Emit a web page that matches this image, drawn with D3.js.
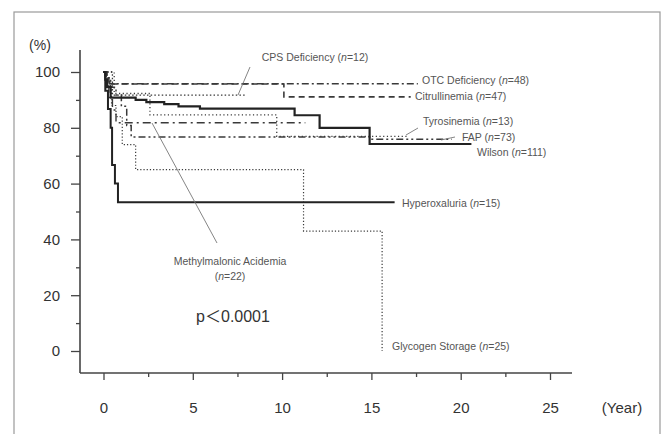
<!DOCTYPE html>
<html>
<head>
<meta charset="utf-8">
<script src="https://cdn.jsdelivr.net/npm/d3@7"></script>
<style>
  body { margin: 0; background: #fff; }
  svg text { font-family: "Liberation Sans", Arial, "Noto Sans CJK JP", sans-serif; }
</style>
</head>
<body>
<svg id="canvas" width="670" height="434"></svg>
<script>
// Kaplan-Meier steps: time in years, survival in %
let otcTime = [0, 0.15, 0.35, 17.6]
let otcPct = [100, 97.9, 95.8, 95.8]

let citTime = [0, 0.1, 0.3, 10.1, 17.2]
let citPct = [100, 97.9, 95.7, 91.1, 91.1]

let cpsTime = [0, 0.5, 8.0]
let cpsPct = [100, 91.7, 91.7]

let wilsonTime = [0, 0.1, 0.2, 0.4, 1.8, 2.4, 3.4, 4.2, 5.4, 10.7, 12.1, 14.9, 20.6]
let wilsonPct = [100, 97.3, 94.6, 90.8, 90.0, 89.2, 88.5, 87.7, 86.9, 84.5, 80.0, 74.2, 74.2]

let tyroTime = [0, 0.6, 2.6, 9.7, 17.0]
let tyroPct = [100, 92.3, 84.6, 76.9, 76.9]

let fapTime = [0, 0.2, 0.4, 0.7, 1.0, 1.3, 1.55, 14.9, 19.5]
let fapPct = [100, 97.3, 94.5, 91.8, 87.7, 80.8, 76.7, 75.9, 75.9]

let mmaTime = [0, 0.15, 0.3, 0.5, 0.7, 11.3]
let mmaPct = [100, 95.5, 90.9, 86.4, 81.8, 81.8]

let hyperTime = [0, 0.1, 0.25, 0.4, 0.48, 0.64, 0.81, 16.3]
let hyperPct = [100, 93.3, 86.7, 80.0, 66.7, 60.0, 53.3, 53.3]

let glyTime = [0, 0.2, 0.45, 0.7, 1.05, 1.8, 11.2, 15.6]
let glyPct = [100, 96, 88, 84, 74, 65, 43, 0]

let xTicks = [0, 5, 10, 15, 20, 25]
let xMinor = [2.5, 7.5, 12.5, 17.5, 22.5]
let yTicks = [0, 20, 40, 60, 80, 100]
let yMinor = [10, 30, 50, 70, 90]

let curves = [
    { name: 'OTC Deficiency', n: 48, t: otcTime, s: otcPct, dash: '7,3,2,3', w: 1.6 },
    { name: 'Citrullinemia', n: 47, t: citTime, s: citPct, dash: '6,4', w: 1.6 },
    { name: 'CPS Deficiency', n: 12, t: cpsTime, s: cpsPct, dash: '1.5,2.2', w: 1.3 },
    { name: 'Tyrosinemia', n: 13, t: tyroTime, s: tyroPct, dash: '1.2,2.5', w: 1.3 },
    { name: 'FAP', n: 73, t: fapTime, s: fapPct, dash: '7,3,2,3,2,3', w: 1.5 },
    { name: 'Methylmalonic Acidemia', n: 22, t: mmaTime, s: mmaPct, dash: '8,4,2,4', w: 1.4 },
    { name: 'Glycogen Storage', n: 25, t: glyTime, s: glyPct, dash: '1.2,2', w: 1.2 },
    { name: 'Hyperoxaluria', n: 15, t: hyperTime, s: hyperPct, dash: null, w: 2 },
    { name: 'Wilson', n: 111, t: wilsonTime, s: wilsonPct, dash: null, w: 2.2 }
]

// where each label sits (layout only)
let labelPos = {
    'OTC Deficiency': [422, 84, 'start'],
    'Citrullinemia': [415, 100, 'start'],
    'CPS Deficiency': [315, 61, 'middle'],
    'Tyrosinemia': [423, 125, 'start'],
    'FAP': [462, 141, 'start'],
    'Wilson': [477, 156, 'start'],
    'Hyperoxaluria': [402, 207, 'start'],
    'Glycogen Storage': [392, 350, 'start']
}

let canvas = d3.select('#canvas')

let x = d3.scaleLinear().domain([0, 25]).range([103.5, 550])
let y = d3.scaleLinear().domain([0, 100]).range([351, 72])

// outer frame
canvas.append('rect')
    .attr('x', 14).attr('y', 12)
    .attr('width', 646).attr('height', 440)
    .attr('fill', 'none')
    .attr('stroke', '#9a9a9a')
    .attr('stroke-width', 1.2)

let drawAxes = () => {
    let ax = canvas.append('g').attr('transform', 'translate(0,373)')
    ax.call(d3.axisBottom(x).tickValues(xTicks).tickSize(7).tickPadding(22))
    ax.append('g').call(d3.axisBottom(x).tickValues(xMinor).tickSize(4).tickFormat(''))
    ax.selectAll('.domain').remove()
    ax.selectAll('line').attr('stroke', '#444').attr('stroke-width', 1.3)
    ax.selectAll('text').attr('font-size', 15).attr('fill', '#333')

    let ay = canvas.append('g').attr('transform', 'translate(80,0)')
    ay.call(d3.axisLeft(y).tickValues(yTicks).tickSize(9).tickPadding(11))
    ay.append('g').call(d3.axisLeft(y).tickValues(yMinor).tickSize(4).tickFormat(''))
    ay.selectAll('.domain').remove()
    ay.selectAll('line').attr('stroke', '#444').attr('stroke-width', 1.3)
    ay.selectAll('text').attr('font-size', 15).attr('fill', '#333')

    canvas.append('line')
        .attr('x1', 80).attr('x2', 572).attr('y1', 373).attr('y2', 373)
        .attr('stroke', '#444').attr('stroke-width', 1.6)
    canvas.append('line')
        .attr('x1', 80).attr('x2', 80).attr('y1', 50).attr('y2', 373)
        .attr('stroke', '#444').attr('stroke-width', 1.6)

    canvas.append('text').attr('x', 40).attr('y', 50)
        .attr('text-anchor', 'middle').attr('font-size', 14).attr('fill', '#333')
        .text('(%)')
    canvas.append('text').attr('x', 622).attr('y', 413)
        .attr('text-anchor', 'middle').attr('font-size', 15).attr('fill', '#333')
        .text('(Year)')
}

let drawCurves = () => {
    let line = d3.line()
        .x(d => x(d[0]))
        .y(d => y(d[1]))
        .curve(d3.curveStepAfter)

    canvas.selectAll('path.km')
        .data(curves)
        .enter()
        .append('path')
        .attr('class', 'km')
        .attr('d', c => line(c.t.map((t, i) => [t, c.s[i]])))
        .attr('fill', 'none')
        .attr('stroke', c => c.dash ? '#3a3a3a' : '#222')
        .attr('stroke-width', c => c.w)
        .attr('stroke-dasharray', c => c.dash)
}

let addLabel = (px, py, anchor, name, n) => {
    let t = canvas.append('text')
        .attr('x', px).attr('y', py)
        .attr('text-anchor', anchor)
        .attr('font-size', 10.5)
        .attr('fill', '#555')
    t.append('tspan').text(name + ' (')
    t.append('tspan').attr('font-style', 'italic').text('n')
    t.append('tspan').text('=' + n + ')')
}

let drawLabels = () => {
    curves.forEach(c => {
        let p = labelPos[c.name]
        if (p) addLabel(p[0], p[1], p[2], c.name, c.n)
    })

    // Methylmalonic label on two lines
    let mma = curves.find(c => c.name === 'Methylmalonic Acidemia')
    canvas.append('text').attr('x', 230).attr('y', 265)
        .attr('text-anchor', 'middle').attr('font-size', 10.5).attr('fill', '#555')
        .text(mma.name)
    let t2 = canvas.append('text').attr('x', 230).attr('y', 280)
        .attr('text-anchor', 'middle').attr('font-size', 10.5).attr('fill', '#555')
    t2.append('tspan').text('(')
    t2.append('tspan').attr('font-style', 'italic').text('n')
    t2.append('tspan').text('=' + mma.n + ')')

    // leader lines
    let leaders = [
        [[250, 67], [238, 95]],
        [[152, 123], [217, 243]],
        [[406, 135], [418, 128]],
        [[441, 140], [455, 137]]
    ]
    canvas.selectAll('line.leader')
        .data(leaders)
        .enter()
        .append('line')
        .attr('class', 'leader')
        .attr('x1', d => d[0][0]).attr('y1', d => d[0][1])
        .attr('x2', d => d[1][0]).attr('y2', d => d[1][1])
        .attr('stroke', '#777')
        .attr('stroke-width', 0.9)

    canvas.append('text').attr('x', 233).attr('y', 322)
        .attr('text-anchor', 'middle').attr('font-size', 16).attr('fill', '#333')
        .text('p＜0.0001')
}

drawAxes()
drawCurves()
drawLabels()
</script>
</body>
</html>
